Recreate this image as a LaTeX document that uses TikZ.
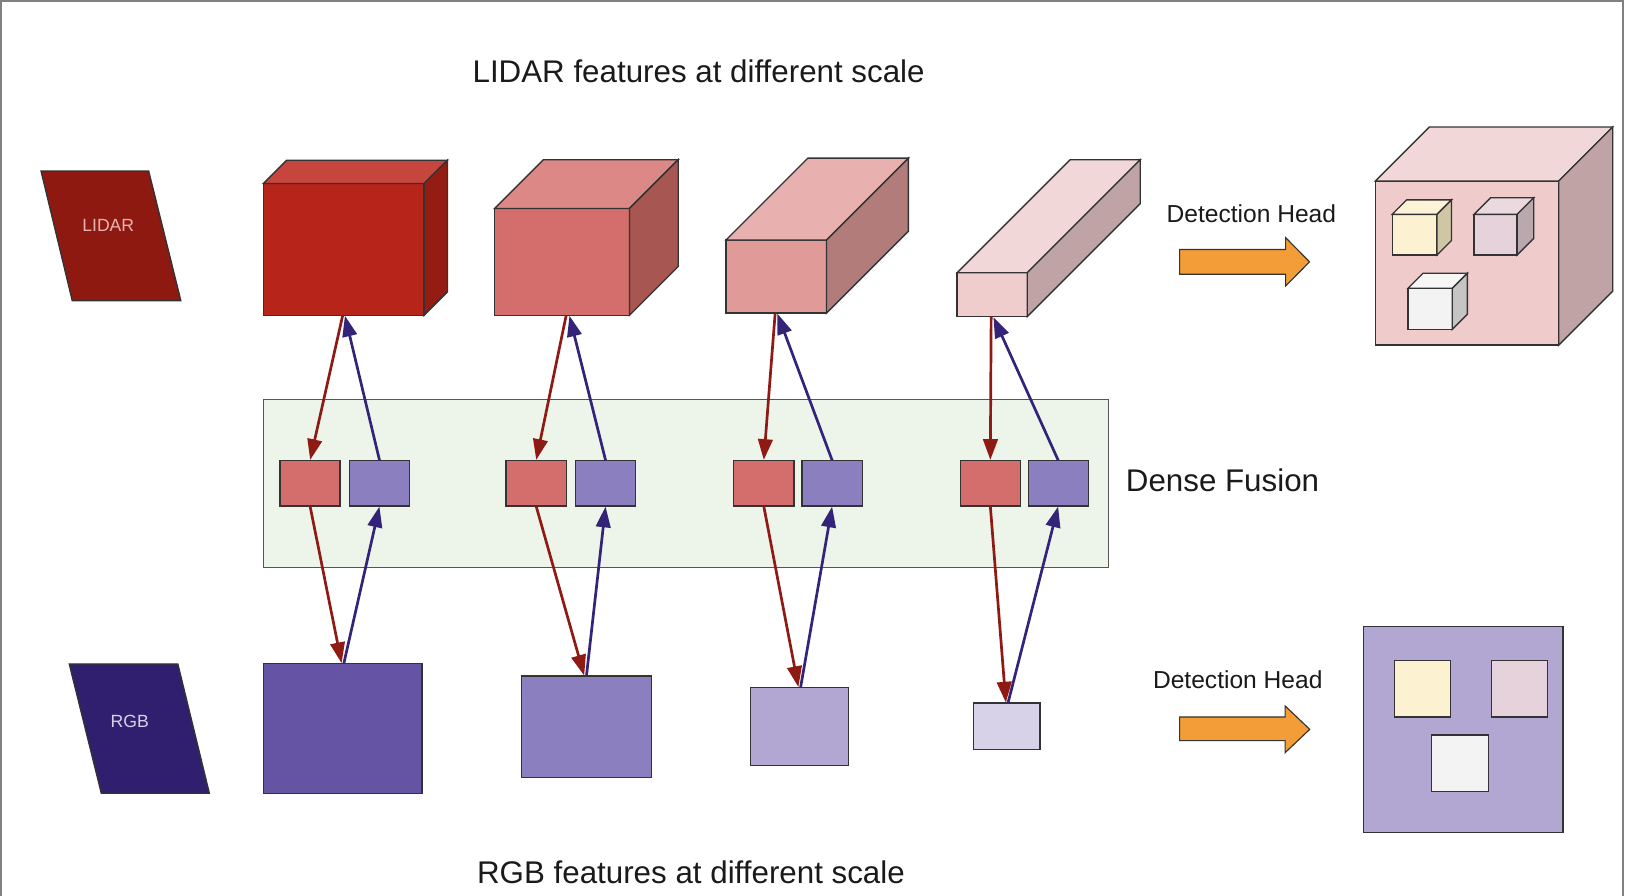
\documentclass[tikz,border=0pt]{standalone}
\usepackage{fontspec}
\setmainfont{Liberation Sans}
\usetikzlibrary{arrows.meta}
\definecolor{edgec}{HTML}{333333}
\definecolor{framec}{HTML}{808080}
\definecolor{textc}{HTML}{1A1A1A}
\definecolor{fusionedge}{HTML}{555555}
\definecolor{lidarpar}{HTML}{8E1911}
\definecolor{rgbpar}{HTML}{2F1F6E}
\definecolor{lidartxt}{HTML}{E8B4B0}
\definecolor{rgbtxt}{HTML}{D8D2E8}
\definecolor{cAf}{HTML}{B7241A}\definecolor{cAt}{HTML}{C6453D}\definecolor{cAs}{HTML}{951C12}
\definecolor{cBf}{HTML}{D36E6C}\definecolor{cBt}{HTML}{DC8886}\definecolor{cBs}{HTML}{A85652}
\definecolor{cCf}{HTML}{E09B99}\definecolor{cCt}{HTML}{E8B0AE}\definecolor{cCs}{HTML}{B27C7A}
\definecolor{cDf}{HTML}{EECDCC}\definecolor{cDt}{HTML}{F2D7D8}\definecolor{cDs}{HTML}{C0A4A5}
\definecolor{cEf}{HTML}{EFCCCB}\definecolor{cEt}{HTML}{F2D7D8}\definecolor{cEs}{HTML}{C0A4A5}
\definecolor{yelf}{HTML}{FCF1D1}\definecolor{yelt}{HTML}{FDF4D8}\definecolor{yels}{HTML}{CFC6A5}
\definecolor{pnkf}{HTML}{E6D2DA}\definecolor{pnkt}{HTML}{EAD9DF}\definecolor{pnks}{HTML}{BAA8AF}
\definecolor{whtf}{HTML}{F3F3F3}\definecolor{whtt}{HTML}{F6F6F6}\definecolor{whts}{HTML}{C5C5C5}
\definecolor{fusionc}{HTML}{EDF4EA}
\definecolor{redbox}{HTML}{D36E6C}
\definecolor{bluebox}{HTML}{8B7FBF}
\definecolor{rgbA}{HTML}{6553A3}
\definecolor{rgbB}{HTML}{8B7FBF}
\definecolor{rgbC}{HTML}{B2A7D3}
\definecolor{rgbD}{HTML}{D8D2E8}
\definecolor{orangec}{HTML}{F29D38}
\definecolor{arrred}{HTML}{8E1A13}
\definecolor{arrblue}{HTML}{33247A}
\tikzset{
  edgeline/.style={draw=edgec, line width=1.3pt, line join=miter},
  face/.style={edgeline, rectangle, inner sep=0pt, outer sep=0pt},
  bigtext/.style={text=textc, font=\fontsize{30.2}{36}\selectfont, inner sep=0pt},
  midtext/.style={text=textc, font=\fontsize{23.7}{28}\selectfont, inner sep=0pt},
  partext/.style={font=\fontsize{17}{20}\selectfont, inner sep=0pt},
  redarr/.style={draw=arrred, line width=2.6pt, -{Triangle[length=20pt,width=14pt]}, shorten >=0.5pt},
  bluearr/.style={draw=arrblue, line width=2.6pt, -{Triangle[length=20pt,width=14pt]}, shorten >=0.5pt},
}
% name, cx, cy, w, h, depth, front, top, side
\newcommand\fcube[9]{%
  \node[face, fill=#7, minimum width=#4, minimum height=#5] (#1) at (#2,#3) {};
  \draw[edgeline, fill=#8] (#1.north west) -- ++(#6,-#6) -- ++(#4,0) -- (#1.north east) -- cycle;
  \draw[edgeline, fill=#9] (#1.north east) -- ++(#6,-#6) -- ++(0,#5) -- (#1.south east) -- cycle;}
\begin{document}
\begin{tikzpicture}[x=1pt, y=-1pt]
\useasboundingbox (0,0) rectangle (1568,864);
\fill[white] (0,0) rectangle (1568,864);
% page frame
\draw[framec, line width=1.8pt] (0.8,864) -- (0.8,0.8) -- (1565.2,0.8) -- (1565.2,864);

% titles
\node[bigtext] (ltitle) at (673.7,69) {LIDAR features at different scale};
\node[bigtext] (rtitle) at (666.3,841) {RGB features at different scale};

% input parallelograms
\draw[edgeline, fill=lidarpar] (39.6,165) -- (143.4,165) -- (174.4,290) -- (69.7,290) -- cycle;
\node[partext, text=lidartxt] (lidar) at (104.4,217) {LIDAR};
\draw[edgeline, fill=rgbpar] (66.8,640.3) -- (171.5,640.3) -- (201.9,765) -- (97.7,765) -- cycle;
\node[partext, text=rgbtxt] (rgb) at (125.2,696) {RGB};

% lidar feature cubes
\fcube{L1}{331.5}{240.5}{155}{127}{22.5}{cAf}{cAt}{cAs}
\fcube{L2}{542}{252.5}{130}{103}{47}{cBf}{cBt}{cBs}
\fcube{L3}{748.5}{266.75}{97}{70.5}{79}{cCf}{cCt}{cCs}
\fcube{L4}{956.8}{284.2}{67.6}{42.3}{109}{cDf}{cDt}{cDs}

% dense fusion
\node[face, draw=fusionedge, line width=1.2pt, fill=fusionc, minimum width=815, minimum height=162] (fusion) at (661.5,466) {};
\node[bigtext] (fusionlbl) at (1178.9,462.9) {Dense Fusion};

\foreach \i/\xr/\xb in {1/299/366, 2/517/584, 3/736.5/802.5, 4/955/1020.5}{
  \node[face, fill=redbox, minimum width=58, minimum height=44] (R\i) at (\xr,466) {};
  \node[face, fill=bluebox, minimum width=58, minimum height=44] (B\i) at (\xb,466) {};
}

% rgb feature maps
\node[face, fill=rgbA, minimum width=153, minimum height=125] (G1) at (330.5,702.5) {};
\node[face, fill=rgbB, minimum width=125, minimum height=98] (G2) at (565.5,701) {};
\node[face, fill=rgbC, minimum width=94, minimum height=75] (G3) at (771,700.5) {};
\node[face, fill=rgbD, minimum width=64, minimum height=45] (G4) at (971,700.5) {};

% connectors
\draw[redarr]  ([xshift=-1pt]L1.south) -- (R1.north);
\draw[bluearr] (B1.north) -- ([xshift=1pt]L1.south);
\draw[redarr]  (R1.south) -- ([xshift=-1pt]G1.north);
\draw[bluearr] ([xshift=1pt]G1.north) -- (B1.south);

\draw[redarr]  ([xshift=4pt]L2.south) -- (R2.north);
\draw[bluearr] (B2.north) -- ([xshift=7pt]L2.south);
\draw[redarr]  (R2.south) -- ([xshift=-2pt]G2.north);
\draw[bluearr] ([xshift=0pt]G2.north) -- (B2.south);

\draw[redarr]  ([xshift=-1pt]L3.south) -- (R3.north);
\draw[bluearr] (B3.north) -- ([xshift=1pt]L3.south);
\draw[redarr]  (R3.south) -- ([xshift=-1pt]G3.north);
\draw[bluearr] ([xshift=1pt]G3.north) -- (B3.south);

\draw[redarr]  ([xshift=-1pt]L4.south) -- (R4.north);
\draw[bluearr] (B4.north) -- ([xshift=1pt]L4.south);
\draw[redarr]  (R4.south) -- ([xshift=-1pt]G4.north);
\draw[bluearr] ([xshift=1pt]G4.north) -- (B4.south);

% detection heads
\node[midtext] (dh1) at (1206.7,205.7) {Detection Head};
\draw[edgeline, line width=1.1pt, fill=orangec] (1137.5,240.6) -- (1239.8,240.6) -- (1239.8,229.2) -- (1262.8,252.5) -- (1239.8,275.8) -- (1239.8,264.4) -- (1137.5,264.4) -- cycle;
\node[midtext] (dh2) at (1193.6,655.7) {Detection Head};
\draw[edgeline, line width=1.1pt, fill=orangec] (1137.5,691.4) -- (1239.3,691.4) -- (1239.3,680.8) -- (1263,703.3) -- (1239.3,725.8) -- (1239.3,714.2) -- (1137.5,714.2) -- cycle;

% 3D output
\fcube{O3}{1414.8}{253.6}{176.8}{158.2}{52}{cEf}{cEt}{cEs}
\fcube{Oy}{1364.1}{226.3}{43.2}{39.2}{14}{yelf}{yelt}{yels}
\fcube{Op}{1442.25}{226.3}{41.5}{39.2}{16}{pnkf}{pnkt}{pnks}
\fcube{Ow}{1379.1}{297.8}{42.8}{39.6}{14.5}{whtf}{whtt}{whts}

% 2D output
\node[face, fill=rgbC, minimum width=192.4, minimum height=198.3] (O2) at (1411,703.45) {};
\node[face, fill=yelf, minimum width=54.3, minimum height=54.3] (O2y) at (1371.65,664.25) {};
\node[face, fill=pnkf, minimum width=54.4, minimum height=54.4] (O2p) at (1465.2,664.2) {};
\node[face, fill=whtf, minimum width=54.7, minimum height=54.6] (O2w) at (1407.75,736.1) {};
\end{tikzpicture}
\end{document}
